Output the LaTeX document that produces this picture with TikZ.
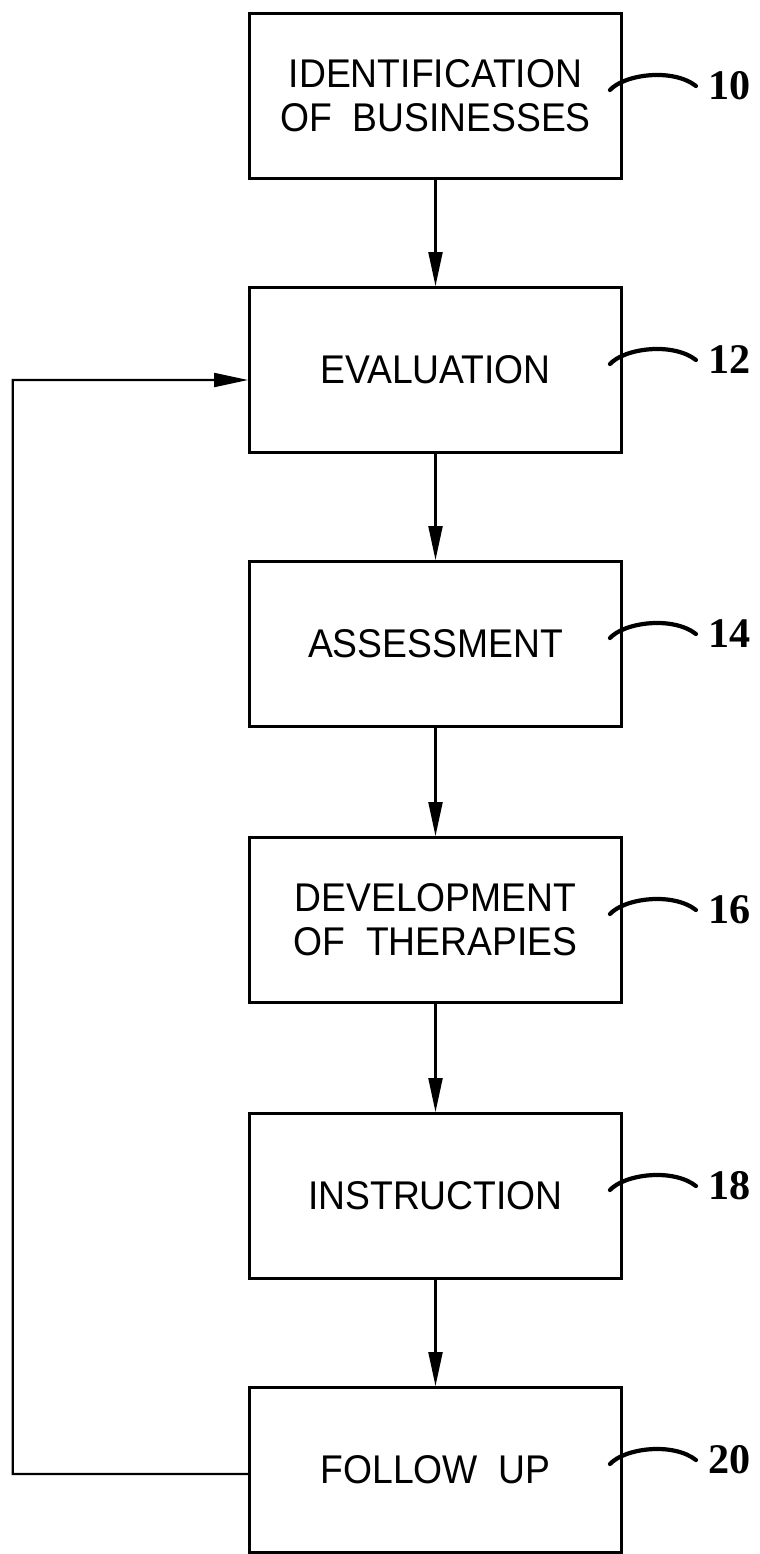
\documentclass[tikz,border=0pt]{standalone}
\usepackage{fontspec}
\setsansfont{Liberation Sans}[FakeStretch=0.93]
\newfontfamily\refnumfont{Liberation Serif}
\usetikzlibrary{arrows.meta,calc}
\tikzset{
  >=Triangle,
  % process steps of the flow chart
  stepbox/.style={
    draw=black,
    line width=2pt,
    minimum width=9.3cm,
    minimum height=4.125cm,
    inner sep=0pt,
    align=center,
    font=\sffamily\fontsize{28.5}{31.3}\selectfont
  },
  flow/.style={
    -{Triangle[length=8.5mm,width=3.5mm]},
    line width=1.5pt
  },
  leader/.style={
    line width=3pt,
    line cap=round
  },
  refnum/.style={
    font=\refnumfont\bfseries\fontsize{30}{30}\selectfont,
    inner sep=0pt,
    anchor=west
  }
}

\begin{document}
\begin{tikzpicture}[x=0.025cm,y=0.025cm]
\useasboundingbox (0,0) rectangle (759,-1554);

\node[stepbox] (ident) at (435.5,-96) {IDENTIFICATION\\OF\ \ BUSINESSES};
\node[stepbox] (eval) at (435.5,-370) {EVALUATION};
\node[stepbox] (assess) at (435.5,-644) {ASSESSMENT};
\node[stepbox] (devel) at (435.5,-920) {DEVELOPMENT\\OF\ \ THERAPIES};
\node[stepbox] (instr) at (435.5,-1196) {INSTRUCTION};
\node[stepbox] (follow) at (435.5,-1470) {FOLLOW\ \ UP};

% reference numerals
\node[refnum] (n10) at ($(ident.east)+(85,10)$) {10};
\node[refnum] (n12) at ($(eval.east)+(85,10)$) {12};
\node[refnum] (n14) at ($(assess.east)+(85,10)$) {14};
\node[refnum] (n16) at ($(devel.east)+(85,10)$) {16};
\node[refnum] (n18) at ($(instr.east)+(85,10)$) {18};
\node[refnum] (n20) at ($(follow.east)+(85,10)$) {20};

\draw[leader] ($(ident.east)+(-13,6)$) .. controls +(15,16) and +(-23,18) .. ([xshift=-3mm]n10.west);
\draw[leader] ($(eval.east)+(-13,6)$) .. controls +(15,16) and +(-23,18) .. ([xshift=-3mm]n12.west);
\draw[leader] ($(assess.east)+(-13,6)$) .. controls +(15,16) and +(-23,18) .. ([xshift=-3mm]n14.west);
\draw[leader] ($(devel.east)+(-13,6)$) .. controls +(15,16) and +(-23,18) .. ([xshift=-3mm]n16.west);
\draw[leader] ($(instr.east)+(-13,6)$) .. controls +(15,16) and +(-23,18) .. ([xshift=-3mm]n18.west);
\draw[leader] ($(follow.east)+(-13,6)$) .. controls +(15,16) and +(-23,18) .. ([xshift=-3mm]n20.west);

\draw[flow] (ident) -- (eval);
\draw[flow] (eval) -- (assess);
\draw[flow] (assess) -- (devel);
\draw[flow] (devel) -- (instr);
\draw[flow] (instr) -- (follow);

% loop back from follow up to evaluation
\coordinate (loop) at (12.7,-1474);
\draw[flow] ([yshift=-1mm]follow.west) -- (loop) |- ([yshift=-2.5mm]eval.west);

\end{tikzpicture}
\end{document}
